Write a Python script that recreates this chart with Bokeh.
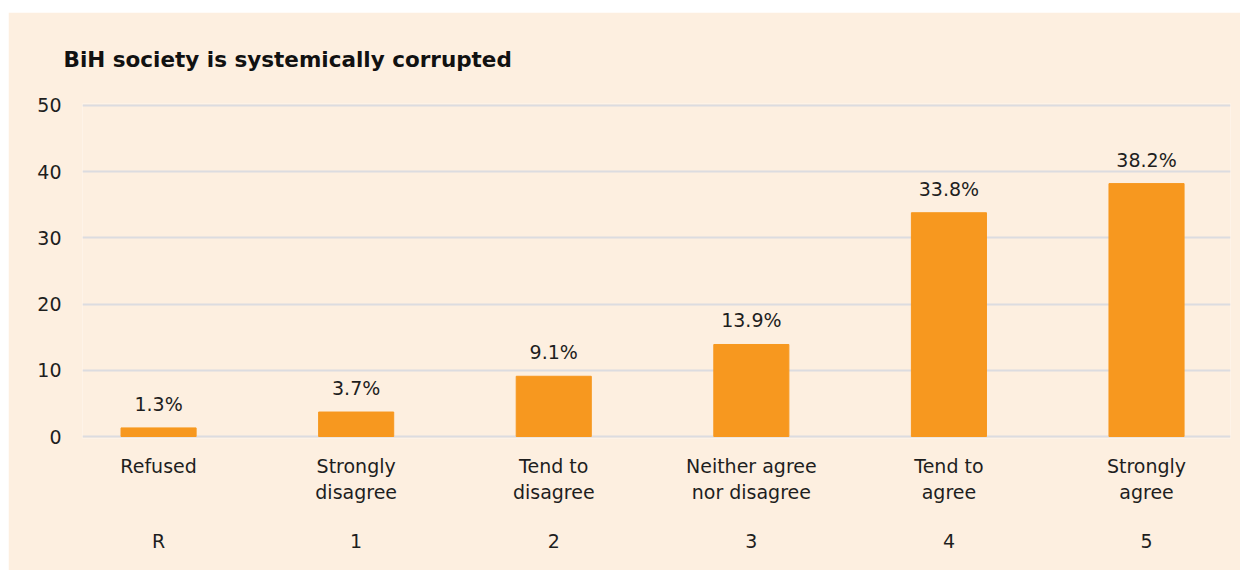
from bokeh.plotting import figure
from bokeh.layouts import column, row
from bokeh.models import Range1d, LinearAxis, FixedTicker, ColumnDataSource, Spacer
from bokeh.core.properties import value
from bokeh.embed import file_html
from bokeh.resources import INLINE

categories = ["Refused", "Strongly\ndisagree", "Tend to\ndisagree",
              "Neither agree\nnor disagree", "Tend to\nagree", "Strongly\nagree"]
codes = ["R", "1", "2", "3", "4", "5"]
values = [1.3, 3.7, 9.1, 13.9, 33.8, 38.2]
y_ticks = [0, 10, 20, 30, 40, 50]

FONT = "DejaVu Sans"
BG = "#FDEFE0"
BAR = "#F7981F"
TXT = "#1E1E1E"

xs = list(range(len(categories)))
src = ColumnDataSource(dict(x=xs, top=values,
                            label=[f"{v:.1f}%" for v in values]))

p = figure(width=1232, height=558, output_backend="svg", toolbar_location=None,
           x_range=Range1d(-0.385, 5.425), y_range=Range1d(-0.3, 50.3),
           x_axis_location=None, y_axis_location="left",
           min_border_left=74, min_border_right=10, min_border_top=91,
           min_border_bottom=132)
p.background_fill_color = BG
p.border_fill_color = BG
p.outline_line_color = None

p.title.text = "BiH society is systemically corrupted"
p.title.text_font = FONT
p.title.text_font_size = "21.5px"
p.title.text_font_style = "bold"
p.title.text_color = "#111111"
p.title.offset = -19
p.title.standoff = 63

p.vbar(x="x", top="top", bottom=0, width=0.38, color=BAR, source=src)
p.text(x="x", y="top", text="label", source=src, text_align="center",
       text_baseline="bottom", y_offset=-13, text_font=value(FONT),
       text_font_size="19px", text_color=TXT)

# y axis
yax = p.yaxis[0]
yax.ticker = FixedTicker(ticks=y_ticks)
yax.axis_line_color = None
yax.major_tick_line_color = None
yax.minor_tick_line_color = None
yax.major_label_text_font = FONT
yax.major_label_text_font_size = "19px"
yax.major_label_text_color = TXT
yax.major_label_standoff = 15

p.ygrid.ticker = FixedTicker(ticks=y_ticks)
p.ygrid.grid_line_color = "#DCDCE0"
p.ygrid.grid_line_width = 2
p.xgrid.grid_line_color = None

# category axis
ax1 = LinearAxis(ticker=FixedTicker(ticks=xs),
                 major_label_overrides={i: c for i, c in enumerate(categories)})
ax2 = LinearAxis(ticker=FixedTicker(ticks=xs),
                 major_label_overrides={i: c for i, c in enumerate(codes)})
for ax, st in ((ax1, 10), (ax2, 18)):
    ax.axis_line_color = None
    ax.major_tick_line_color = None
    ax.minor_tick_line_color = None
    ax.major_label_text_font = FONT
    ax.major_label_text_font_size = "19px"
    ax.major_label_text_color = TXT
    ax.major_label_standoff = st
    p.add_layout(ax, "below")

layout = column(Spacer(height=12), row(Spacer(width=8), p))
open("out.html", "w").write(file_html(layout, INLINE))
